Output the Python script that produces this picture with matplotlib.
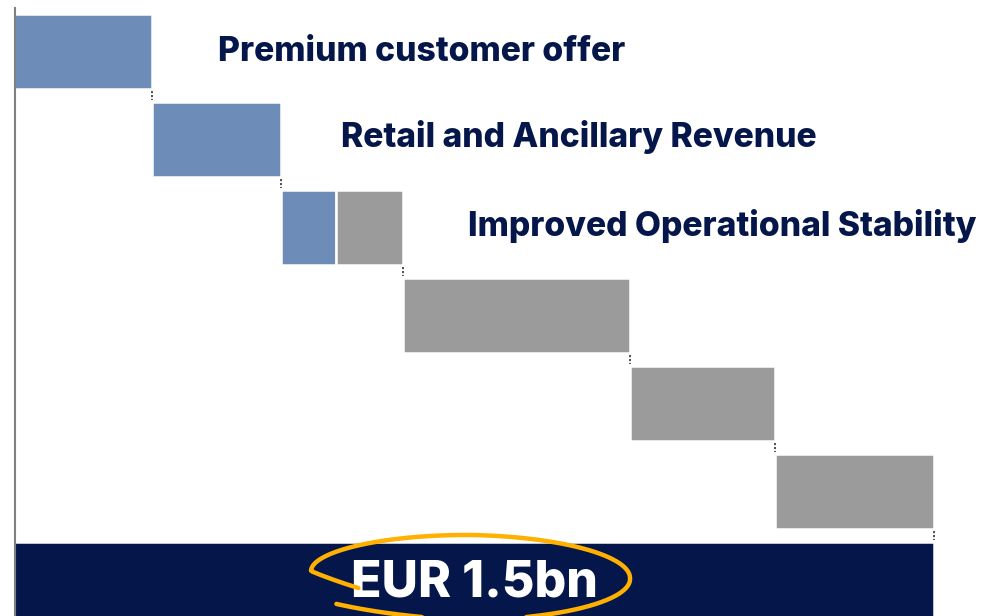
import numpy as np
import matplotlib.pyplot as plt

# waterfall steps, EUR bn
step_labels = ["Premium customer offer", "Retail and Ancillary Revenue",
               "Improved Operational Stability"]
step_rows = [0, 1, 2, 2, 3, 4, 5]
step_values = [0.225, 0.21, 0.09, 0.11, 0.37, 0.235, 0.26]
step_kind = ["blue", "blue", "blue", "gray", "gray", "gray", "gray"]
total_label = "EUR 1.5bn"
total_value = sum(step_values)

colors = {"blue": "#6d8db8", "gray": "#9b9b9b"}
navy = "#05174a"
orange = "#ffb000"

W, H = 983, 616
fig = plt.figure(figsize=(W / 100, H / 100), dpi=100)
ax = fig.add_axes([15 / W, 0, (W - 15) / W, 1 - 8 / H])

px = 1.5 / 920  # data units per pixel
ax.set_xlim(1.0 * px, (W - 14) * px)
ax.set_ylim((616 - 51.5) / 88, (8 - 51.5) / 88)

bar_h = 75.5 / 88
lefts = np.concatenate([[0], np.cumsum(step_values)[:-1]])
for row, left, val, kind in zip(step_rows, lefts, step_values, step_kind):
    ax.barh(row, val, left=left, height=bar_h, color=colors[kind],
            edgecolor="white", linewidth=1.8)

total_row = max(step_rows) + 1
ax.barh(total_row, total_value, left=0, height=bar_h, color=navy,
        edgecolor="white", linewidth=1.8)

# dotted connectors between rows
ends = np.cumsum(step_values)
for i in range(len(step_values)):
    nxt = step_rows[i + 1] if i + 1 < len(step_rows) else total_row
    if nxt != step_rows[i]:
        ax.vlines(ends[i], step_rows[i] + bar_h / 2 + 0.02, nxt - bar_h / 2 - 0.02,
                  colors="#444444", linestyles=(0, (1.2, 1)), linewidth=1.3)

# labels next to the blue steps
label_x = [0.332, 0.533, 0.740]
label_dy = [0.11, 0.09, 0.095]
for i, (txt, x, dy) in enumerate(zip(step_labels, label_x, label_dy)):
    ax.text(x, i + dy, txt, ha="left", va="baseline", fontsize=24.3,
            fontweight=800, family="Inter", color=navy)

ax.text(total_value / 2, total_row + 0.19, total_label, ha="center",
        va="baseline", fontsize=36, fontweight=800, family="Inter",
        color="white")

for s in ["top", "right", "bottom"]:
    ax.spines[s].set_visible(False)
ax.spines["left"].set_color("#7f7f7f")
ax.spines["left"].set_linewidth(1.5)
ax.set_xticks([])
ax.set_yticks([])

# hand-drawn highlight loop around the total (pixel overlay)
ov = fig.add_axes([0, 0, 1, 1], facecolor="none")
ov.set_xlim(0, W)
ov.set_ylim(H, 0)
ov.axis("off")
t0, t1 = np.pi - 0.35, 3 * np.pi - 0.7
keys = [t0, np.pi, 1.5 * np.pi, 2 * np.pi, 2.5 * np.pi, t1]
t = np.linspace(t0, t1, 300)
rx = np.interp(t, keys, [120, 160, 159, 159, 165, 176])
ry = np.interp(t, keys, [38, 38, 40, 39, 40, 34])
cy = np.interp(t, keys, [575, 571, 575, 578, 580, 582])
ov.plot(471 + rx * np.cos(t), cy + ry * np.sin(t), color=orange,
        linewidth=3.2, solid_capstyle="round")

fig.savefig("out.png", dpi=100)
